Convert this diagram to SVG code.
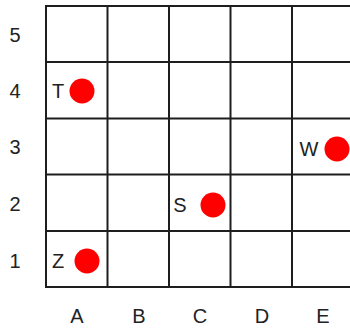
<svg xmlns="http://www.w3.org/2000/svg" width="350" height="331" viewBox="0 0 350 331">
<style>
.g{stroke:#1e1e1e;stroke-width:2;fill:none}
.t{font-family:"Liberation Sans",Arial,sans-serif;font-size:20px;fill:#222;text-anchor:middle;dominant-baseline:central}
.d{fill:#ff0000}
</style>
<rect width="350" height="331" fill="#fff"/>
<g id="grid" class="g">
<line x1="46" y1="6" x2="46" y2="287"/>
<line x1="107.5" y1="6" x2="107.5" y2="287"/>
<line x1="169" y1="6" x2="169" y2="287"/>
<line x1="230.5" y1="6" x2="230.5" y2="287"/>
<line x1="292" y1="6" x2="292" y2="287"/>
<line x1="45" y1="6" x2="350" y2="6"/>
<line x1="45" y1="62" x2="350" y2="62"/>
<line x1="45" y1="118.5" x2="350" y2="118.5"/>
<line x1="45" y1="174.5" x2="350" y2="174.5"/>
<line x1="45" y1="231" x2="350" y2="231"/>
<line x1="45" y1="287" x2="350" y2="287"/>
</g>
<g id="axes" class="t">
<text x="15" y="35">5</text>
<text x="15" y="91">4</text>
<text x="15" y="147">3</text>
<text x="15" y="204">2</text>
<text x="15" y="261">1</text>
<text x="77" y="316">A</text>
<text x="139" y="316">B</text>
<text x="200" y="316">C</text>
<text x="262" y="316">D</text>
<text x="323" y="316">E</text>
</g>
<g id="T"><text class="t" x="58" y="91">T</text><circle class="d" cx="82" cy="91" r="12.5"/></g>
<g id="W"><text class="t" x="309" y="149">W</text><circle class="d" cx="337" cy="149" r="12.5"/></g>
<g id="S"><text class="t" x="180" y="205">S</text><circle class="d" cx="213" cy="205" r="12.5"/></g>
<g id="Z"><text class="t" x="58" y="261">Z</text><circle class="d" cx="87" cy="261" r="12.5"/></g>
</svg>
